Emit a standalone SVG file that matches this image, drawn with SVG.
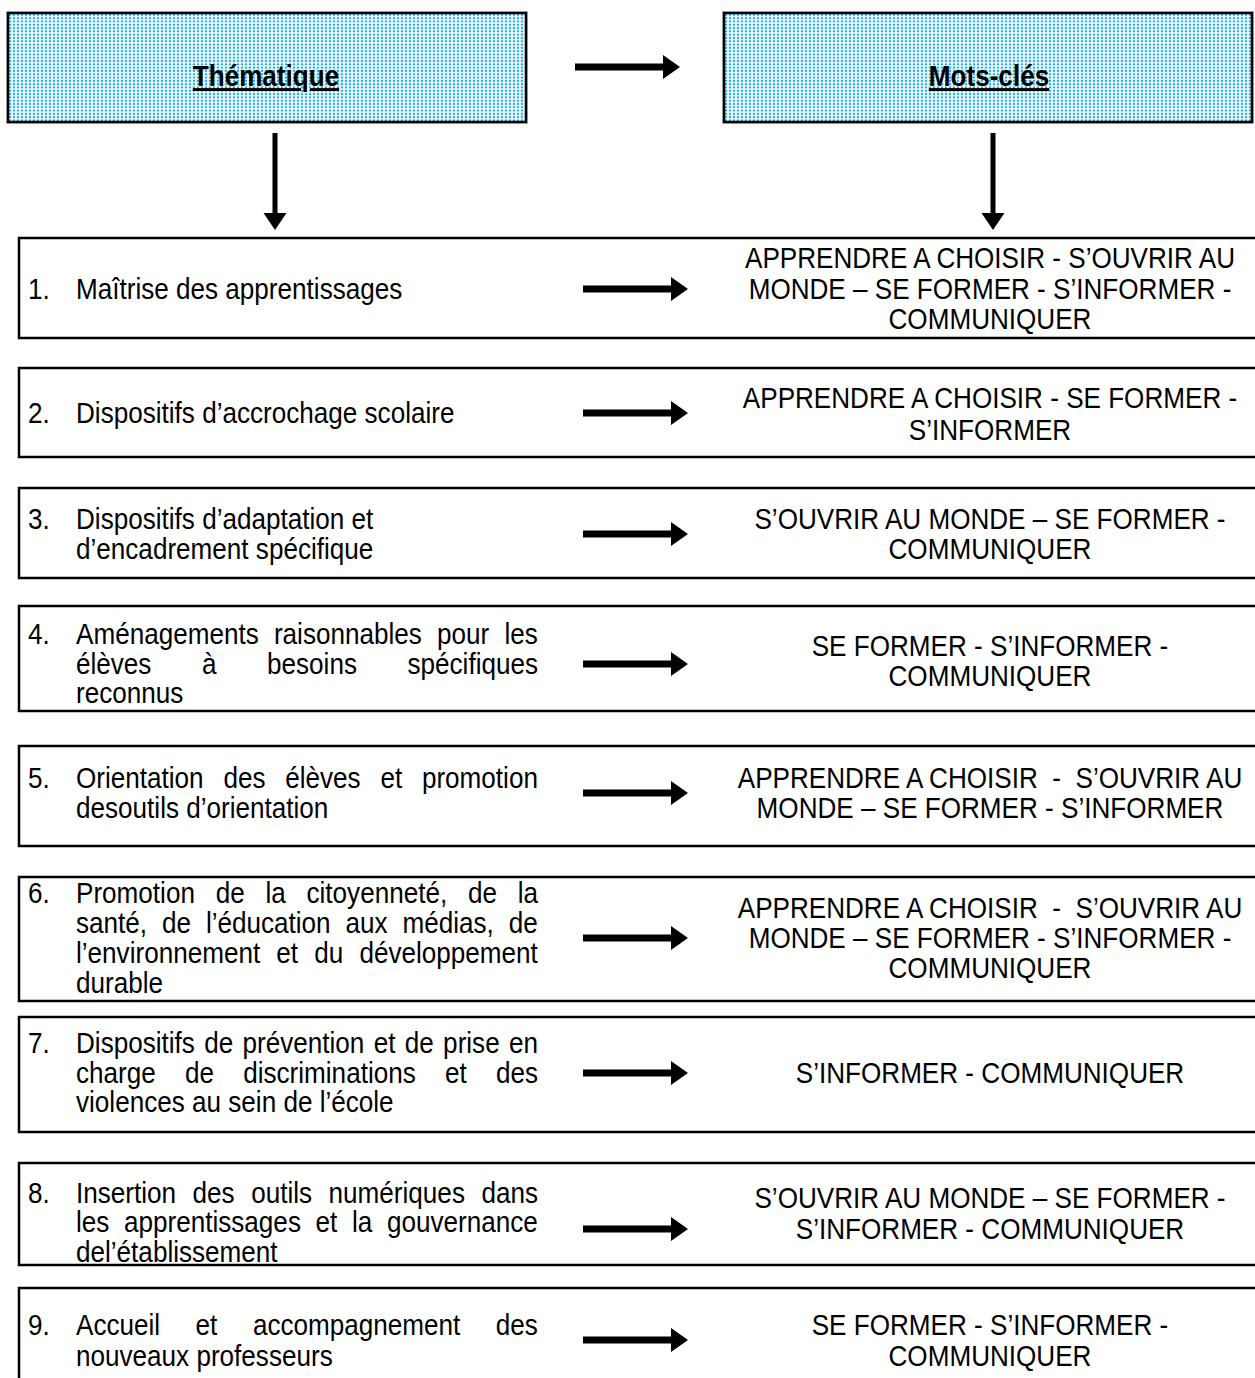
<svg xmlns="http://www.w3.org/2000/svg" width="1255" height="1378" viewBox="0 0 1255 1378">
<style>
.t{font-family:"Liberation Sans",Arial,sans-serif;font-size:29px;fill:#000}
.c{text-anchor:middle}
.h{font-family:"Liberation Sans",Arial,sans-serif;font-size:29px;font-weight:bold;text-anchor:middle;text-decoration:underline;fill:#000}
.box{fill:#fff;stroke:#000;stroke-width:2.5}
.hb{fill:url(#dots);stroke:#000;stroke-width:2.5}
.hbo{fill:none;stroke:#c8c8c8;stroke-width:1}
.ar{fill:#000}
</style>
<defs>
<pattern id="dots" width="4" height="3.3" patternUnits="userSpaceOnUse">
<rect width="4" height="3.3" fill="#ffffff"/>
<rect x="0.8" y="0.6" width="2.2" height="2" fill="#1aaee8"/>
</pattern>
<path id="ah" d="M0,-3.5 H88 V-12 L105,0 L88,12 V3.5 H0 Z"/>
<path id="av" d="M-2.5,0 V80 H-11.5 L0,97 L11.5,80 H2.5 V0 Z"/>
</defs>

<g id="node-thematique">
<rect class="hbo" x="6.5" y="11.5" width="521" height="112"/>
<rect class="hb" x="8" y="13" width="518" height="109"/>
<text class="h" x="266" y="86" transform="matrix(0.9 0 0 1 26.6 0)">Thématique</text>
</g>
<g id="node-motscles">
<rect class="hbo" x="722.5" y="11.5" width="531" height="112"/>
<rect class="hb" x="724" y="13" width="528" height="109"/>
<text class="h" x="989" y="86" transform="matrix(0.9 0 0 1 98.9 0)">Mots-clés</text>
</g>

<g id="row-1">
<rect class="box" x="19" y="238" width="1245" height="100"/>
<g transform="matrix(0.9 0 0 1 7.6 0)">
<text class="t" x="22.7" y="299">1.</text>
<text class="t" x="76" y="299">Maîtrise des apprentissages</text>
</g>
<g transform="matrix(0.9 0 0 1 99 0)">
<text class="t c" x="990" y="268">APPRENDRE A CHOISIR - S’OUVRIR AU</text>
<text class="t c" x="990" y="299">MONDE – SE FORMER - S’INFORMER -</text>
<text class="t c" x="990" y="329">COMMUNIQUER</text>
</g>
</g>
<g id="row-2">
<rect class="box" x="19" y="368" width="1245" height="89"/>
<g transform="matrix(0.9 0 0 1 7.6 0)">
<text class="t" x="22.7" y="423">2.</text>
<text class="t" x="76" y="423">Dispositifs d’accrochage scolaire</text>
</g>
<g transform="matrix(0.9 0 0 1 99 0)">
<text class="t c" x="990" y="408">APPRENDRE A CHOISIR - SE FORMER -</text>
<text class="t c" x="990" y="440">S’INFORMER</text>
</g>
</g>
<g id="row-3">
<rect class="box" x="19" y="488" width="1245" height="90"/>
<g transform="matrix(0.9 0 0 1 7.6 0)">
<text class="t" x="22.7" y="529">3.</text>
<text class="t" x="76" y="529">Dispositifs d’adaptation et</text>
<text class="t" x="76" y="559">d’encadrement spécifique</text>
</g>
<g transform="matrix(0.9 0 0 1 99 0)">
<text class="t c" x="990" y="529">S’OUVRIR AU MONDE – SE FORMER -</text>
<text class="t c" x="990" y="559">COMMUNIQUER</text>
</g>
</g>
<g id="row-4">
<rect class="box" x="19" y="606" width="1245" height="105"/>
<g transform="matrix(0.9 0 0 1 7.6 0)">
<text class="t" x="22.7" y="644">4.</text>
<text class="t" x="76" y="644" word-spacing="8.8">Aménagements raisonnables pour les</text>
<text class="t" x="76" y="674" word-spacing="48.1">élèves à besoins spécifiques</text>
<text class="t" x="76" y="703">reconnus</text>
</g>
<g transform="matrix(0.9 0 0 1 99 0)">
<text class="t c" x="990" y="656">SE FORMER - S’INFORMER -</text>
<text class="t c" x="990" y="686">COMMUNIQUER</text>
</g>
</g>
<g id="row-5">
<rect class="box" x="19" y="746" width="1245" height="100"/>
<g transform="matrix(0.9 0 0 1 7.6 0)">
<text class="t" x="22.7" y="788">5.</text>
<text class="t" x="76" y="788" word-spacing="13.9">Orientation des élèves et promotion</text>
<text class="t" x="76" y="818">desoutils d’orientation</text>
</g>
<g transform="matrix(0.9 0 0 1 99 0)">
<text class="t c" x="990" y="788" xml:space="preserve">APPRENDRE A CHOISIR  -  S’OUVRIR AU</text>
<text class="t c" x="990" y="818">MONDE – SE FORMER - S’INFORMER</text>
</g>
</g>
<g id="row-6">
<rect class="box" x="19" y="877" width="1245" height="124"/>
<g transform="matrix(0.9 0 0 1 7.6 0)">
<text class="t" x="22.7" y="903">6.</text>
<text class="t" x="76" y="903" word-spacing="15">Promotion de la citoyenneté, de la</text>
<text class="t" x="76" y="933" word-spacing="8.5">santé, de l’éducation aux médias, de</text>
<text class="t" x="76" y="963" word-spacing="9.9">l’environnement et du développement</text>
<text class="t" x="76" y="993">durable</text>
</g>
<g transform="matrix(0.9 0 0 1 99 0)">
<text class="t c" x="990" y="918" xml:space="preserve">APPRENDRE A CHOISIR  -  S’OUVRIR AU</text>
<text class="t c" x="990" y="948">MONDE – SE FORMER - S’INFORMER -</text>
<text class="t c" x="990" y="978">COMMUNIQUER</text>
</g>
</g>
<g id="row-7">
<rect class="box" x="19" y="1017" width="1245" height="115"/>
<g transform="matrix(0.9 0 0 1 7.6 0)">
<text class="t" x="22.7" y="1053">7.</text>
<text class="t" x="76" y="1053" word-spacing="2.3">Dispositifs de prévention et de prise en</text>
<text class="t" x="76" y="1083" word-spacing="24.4">charge de discriminations et des</text>
<text class="t" x="76" y="1112">violences au sein de l’école</text>
</g>
<g transform="matrix(0.9 0 0 1 99 0)">
<text class="t c" x="990" y="1083">S’INFORMER - COMMUNIQUER</text>
</g>
</g>
<g id="row-8">
<rect class="box" x="19" y="1163" width="1245" height="102"/>
<g transform="matrix(0.9 0 0 1 7.6 0)">
<text class="t" x="22.7" y="1203">8.</text>
<text class="t" x="76" y="1203" word-spacing="10.3">Insertion des outils numériques dans</text>
<text class="t" x="76" y="1232" word-spacing="8.2">les apprentissages et la gouvernance</text>
<text class="t" x="76" y="1262">del’établissement</text>
</g>
<g transform="matrix(0.9 0 0 1 99 0)">
<text class="t c" x="990" y="1208">S’OUVRIR AU MONDE – SE FORMER -</text>
<text class="t c" x="990" y="1239">S’INFORMER - COMMUNIQUER</text>
</g>
</g>
<g id="row-9">
<rect class="box" x="19" y="1288" width="1245" height="100"/>
<g transform="matrix(0.9 0 0 1 7.6 0)">
<text class="t" x="22.7" y="1335">9.</text>
<text class="t" x="76" y="1335" word-spacing="31.4">Accueil et accompagnement des</text>
<text class="t" x="76" y="1366">nouveaux professeurs</text>
</g>
<g transform="matrix(0.9 0 0 1 99 0)">
<text class="t c" x="990" y="1335">SE FORMER - S’INFORMER -</text>
<text class="t c" x="990" y="1366">COMMUNIQUER</text>
</g>
</g>

<g id="connectors" class="ar">
<use href="#ah" x="575" y="67"/>
<use href="#av" x="275" y="133"/>
<use href="#av" x="993" y="133"/>
<use href="#ah" x="583" y="289"/>
<use href="#ah" x="583" y="413"/>
<use href="#ah" x="583" y="534"/>
<use href="#ah" x="583" y="664"/>
<use href="#ah" x="583" y="793"/>
<use href="#ah" x="583" y="938"/>
<use href="#ah" x="583" y="1073"/>
<use href="#ah" x="583" y="1229"/>
<use href="#ah" x="583" y="1340"/>
</g>
</svg>
